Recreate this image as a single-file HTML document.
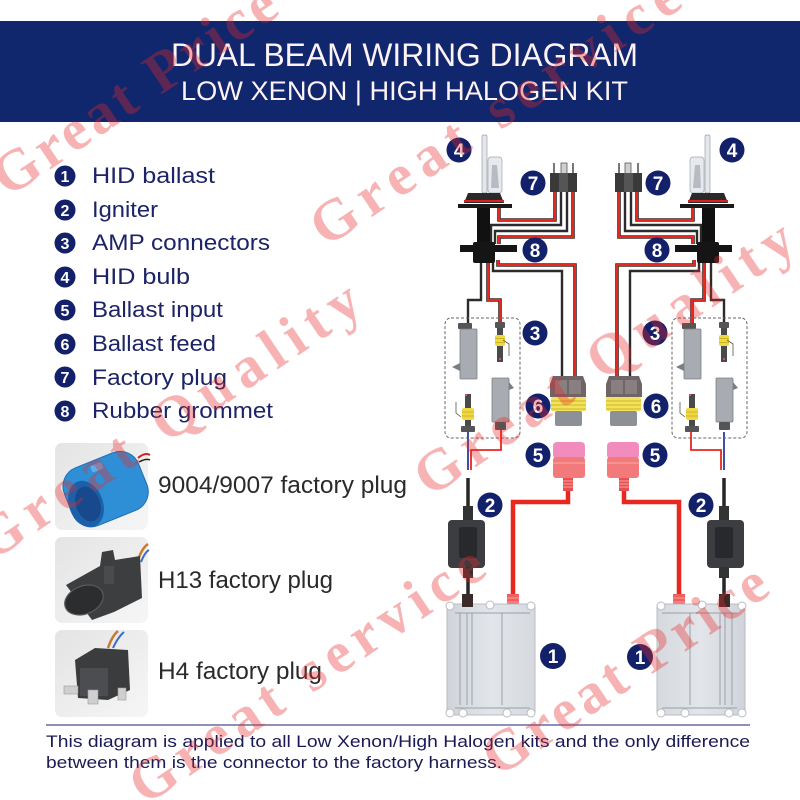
<!DOCTYPE html>
<html><head><meta charset="utf-8"><style>
html,body{margin:0;padding:0;background:#fff;}
svg{display:block;}
</style></head><body>
<svg width="800" height="800" viewBox="0 0 800 800" xmlns="http://www.w3.org/2000/svg" xmlns:xlink="http://www.w3.org/1999/xlink">
<defs>
<linearGradient id="pg" x1="0" y1="0" x2="1" y2="1"><stop offset="0" stop-color="#e4e4e4"/><stop offset="1" stop-color="#f6f6f6"/></linearGradient>
<linearGradient id="bl" x1="0" y1="0" x2="1" y2="0"><stop offset="0" stop-color="#d0d4da"/><stop offset="0.5" stop-color="#e2e5e9"/><stop offset="1" stop-color="#d6d9de"/></linearGradient>
</defs>
<rect width="800" height="800" fill="#fff"/>
<!-- header -->
<rect x="0" y="21" width="800" height="101" fill="#10266d"/>
<text x="171" y="66" font-family="Liberation Sans, sans-serif" font-size="32" fill="#fdf2f4" textLength="467" lengthAdjust="spacingAndGlyphs">DUAL BEAM WIRING DIAGRAM</text>
<text x="181" y="100" font-family="Liberation Sans, sans-serif" font-size="27" fill="#fdf2f4" textLength="447" lengthAdjust="spacingAndGlyphs">LOW XENON | HIGH HALOGEN KIT</text>

<!-- legend -->
<g fill="#13206a">
<circle cx="65" cy="176" r="10.5"/><circle cx="65" cy="210" r="10.5"/><circle cx="65" cy="243" r="10.5"/><circle cx="65" cy="277" r="10.5"/>
<circle cx="65" cy="310" r="10.5"/><circle cx="65" cy="344" r="10.5"/><circle cx="65" cy="377" r="10.5"/><circle cx="65" cy="411" r="10.5"/>
</g>
<g font-family="Liberation Sans, sans-serif" font-weight="bold" font-size="16" fill="#fff" text-anchor="middle">
<text x="65" y="182">1</text><text x="65" y="216">2</text><text x="65" y="249">3</text><text x="65" y="283">4</text>
<text x="65" y="316">5</text><text x="65" y="350">6</text><text x="65" y="383">7</text><text x="65" y="417">8</text>
</g>
<g font-family="Liberation Sans, sans-serif" font-size="22" fill="#1c2366">
<text x="92" y="183" textLength="123" lengthAdjust="spacingAndGlyphs">HID ballast</text>
<text x="92" y="217" textLength="66" lengthAdjust="spacingAndGlyphs">Igniter</text>
<text x="92" y="250" textLength="178" lengthAdjust="spacingAndGlyphs">AMP connectors</text>
<text x="92" y="284" textLength="98" lengthAdjust="spacingAndGlyphs">HID bulb</text>
<text x="92" y="317" textLength="131" lengthAdjust="spacingAndGlyphs">Ballast input</text>
<text x="92" y="351" textLength="124" lengthAdjust="spacingAndGlyphs">Ballast feed</text>
<text x="92" y="385" textLength="135" lengthAdjust="spacingAndGlyphs">Factory plug</text>
<text x="92" y="418" textLength="181" lengthAdjust="spacingAndGlyphs">Rubber grommet</text>
</g>

<!-- plug photos -->
<rect x="55" y="443" width="93" height="87" rx="7" fill="url(#pg)"/>
<path d="M138,458 Q145,452 150,455" stroke="#d02020" stroke-width="2" fill="none"/>
<path d="M139,462 Q146,458 150,460" stroke="#222" stroke-width="1.5" fill="none"/>
<g transform="rotate(-22 106 490)">
<rect x="66" y="458" width="80" height="62" rx="20" fill="#2f8fd6" stroke="#1f6fb0" stroke-width="1"/>
<rect x="100" y="462" width="12" height="7" rx="2" fill="#5ab0ea"/>
</g>
<ellipse cx="86" cy="504" rx="17" ry="24" transform="rotate(-20 86 504)" fill="#1d60aa"/>
<ellipse cx="88" cy="504" rx="12" ry="18" transform="rotate(-20 88 504)" fill="#17498c"/>

<rect x="55" y="537" width="93" height="86" rx="7" fill="url(#pg)"/>
<path d="M138,560 Q142,548 148,544" stroke="#c87a2a" stroke-width="2.5" fill="none"/>
<path d="M141,562 Q145,552 149,550" stroke="#3a6ad0" stroke-width="2" fill="none"/>
<path d="M66,585 L100,566 L102,552 L113,550 L115,560 L140,556 L142,598 L114,612 L92,620 Z" fill="#3d3e40"/>
<ellipse cx="84" cy="600" rx="20" ry="14" transform="rotate(-22 84 600)" fill="#2c2d2f" stroke="#5a5a5c" stroke-width="1.2"/>
<rect x="104" y="566" width="10" height="18" fill="#4a4b4d"/>

<rect x="55" y="630" width="93" height="87" rx="7" fill="url(#pg)"/>
<path d="M108,648 Q112,636 118,631" stroke="#c87a2a" stroke-width="2.5" fill="none"/>
<path d="M113,648 Q118,637 124,632" stroke="#3a6ad0" stroke-width="2" fill="none"/>
<path d="M75,660 L95,648 L128,650 L130,690 L108,700 L78,698 Z" fill="#3b3c3e"/>
<rect x="80" y="668" width="28" height="28" fill="#4c4d50"/>
<rect x="88" y="690" width="10" height="14" fill="#cfcfcf" stroke="#999" stroke-width="0.6"/>
<rect x="64" y="686" width="14" height="8" fill="#cfcfcf" stroke="#999" stroke-width="0.6"/>
<rect x="118" y="688" width="8" height="12" fill="#cfcfcf" stroke="#999" stroke-width="0.6"/>

<g font-family="Liberation Sans, sans-serif" font-size="24" fill="#2a2a2a">
<text x="158" y="493" textLength="249" lengthAdjust="spacingAndGlyphs">9004/9007 factory plug</text>
<text x="158" y="588" textLength="175" lengthAdjust="spacingAndGlyphs">H13 factory plug</text>
<text x="158" y="679" textLength="164" lengthAdjust="spacingAndGlyphs">H4 factory plug</text>
</g>

<!-- diagram half -->
<g id="half">
 <g fill="none" stroke-linejoin="miter">
  <g stroke="#3a2a2a" stroke-width="3.6">
   <path d="M555,192V220H499V208"/>
   <path d="M573,192V237H499V244"/>
   <path d="M488,260V300H500V323"/>
   <path d="M498,260V265H575V377"/>
  </g>
  <g stroke="#e8271f" stroke-width="2">
   <path d="M555,192V220H499V208"/>
   <path d="M573,192V237H499V244"/>
   <path d="M488,260V300H500V323"/>
   <path d="M498,260V265H575V377"/>
  </g>
  <g stroke="#2b2b2b" stroke-width="2.4">
   <path d="M561,192V225H491V244"/>
   <path d="M567,192V231H495V244"/>
   <path d="M481,260V300H468V323"/>
   <path d="M493,260V271H562V377"/>
  </g>
  <path d="M468,432V470" stroke="#2a3a9a" stroke-width="1.8"/>
  <path d="M501,430V450H471V470" stroke="#e8271f" stroke-width="1.8"/>
  <path d="M568,488V502H513V596" stroke="#e8271f" stroke-width="4.5"/>
  <path d="M468,478V596" stroke="#262626" stroke-width="3.5"/>
 </g>
 <!-- bulb -->
 <rect x="482" y="135" width="5" height="58" rx="1.5" fill="#e4e7eb" stroke="#9aa0a8" stroke-width="0.7"/>
 <rect x="488" y="157" width="14" height="36" rx="3" fill="#e6e9ee" stroke="#a0a6ae" stroke-width="0.7"/>
 <path d="M492,165 L497,165 L499,188 L491,188 Z" fill="#b8bcc2"/>
 <path d="M468,193 L500,193 L504,203 L464,203 Z" fill="#2a2a2a"/>
 <rect x="464" y="200" width="40" height="2" fill="#e02020"/>
 <rect x="458" y="204" width="54" height="4" fill="#1a1a1a"/>
 <rect x="477" y="208" width="13" height="36" fill="#111"/>
 <!-- grommet -->
 <rect x="460" y="245" width="57" height="7" fill="#151515"/>
 <rect x="473" y="242" width="22" height="21" rx="2" fill="#151515"/>
 <!-- plug 7 -->
 <rect x="553" y="163" width="2" height="11" fill="#777"/>
 <rect x="561" y="163" width="6" height="11" fill="#cfcfcf" stroke="#555" stroke-width="0.8"/>
 <rect x="572" y="163" width="2" height="11" fill="#777"/>
 <rect x="550" y="173" width="27" height="19" fill="#3a3a3a"/>
 <rect x="559" y="173" width="9" height="19" fill="#555"/>
 <!-- AMP dashed box -->
 <rect x="445" y="318" width="75" height="120" rx="6" fill="none" stroke="#666" stroke-width="1" stroke-dasharray="3,2"/>
 <!-- plug 6 -->
 <path d="M553,376 L583,376 L586,384 L586,397 L550,397 L550,384 Z" fill="#6f6466"/>
 <rect x="555" y="380" width="12" height="14" fill="#8a7f80"/>
 <rect x="569" y="380" width="12" height="14" fill="#8a7f80"/>
 <rect x="551" y="397" width="35" height="14" rx="2" fill="#f3e25a"/>
 <path d="M551,401H586M551,405H586M551,409H586" stroke="#c9b530" stroke-width="1"/>
 <rect x="555" y="411" width="27" height="15" rx="2" fill="#8d9096"/>
 <!-- plug 5 -->
 <rect x="553" y="442" width="32" height="17" rx="4" fill="#f28cbc"/>
 <rect x="553" y="457" width="32" height="21" rx="3" fill="#f27a7a"/>
 <path d="M553,463H585" stroke="#f8a0a0" stroke-width="1.2"/>
 <rect x="563" y="478" width="10" height="13" fill="#e85050"/>
 <path d="M563,481H573M563,484H573M563,487H573" stroke="#f8a0a0" stroke-width="1"/>
 <!-- igniter -->
 <rect x="463" y="506" width="10" height="15" fill="#333"/>
 <rect x="448" y="520" width="37" height="48" rx="4" fill="#3b3d40"/>
 <rect x="459" y="527" width="18" height="31" rx="2" fill="#28292c"/>
 <rect x="463" y="567" width="10" height="11" fill="#333"/>
 <rect x="462" y="594" width="11" height="13" fill="#3a2a2a"/>
 <!-- red connector on ballast -->
 <rect x="507" y="594" width="12" height="14" fill="#f06060"/>
 <path d="M507,598H519M507,602H519" stroke="#f8a0a0" stroke-width="1"/>
 <!-- ballast -->
 <rect x="447" y="604" width="88" height="111" rx="3" fill="url(#bl)" stroke="#b8bcc2" stroke-width="1"/>
 <g fill="#fff" stroke="#b8bcc2" stroke-width="1">
  <circle cx="450" cy="606" r="4"/><circle cx="490" cy="605" r="4"/><circle cx="531" cy="606" r="4"/>
  <circle cx="450" cy="713" r="4"/><circle cx="463" cy="713" r="4"/><circle cx="507" cy="713" r="4"/><circle cx="531" cy="713" r="4"/>
 </g>
 <path d="M455,613H530M455,708H530" stroke="#9aa0a8" stroke-width="1"/>
 <path d="M460,613V705M467,613V705M472,613V705M502,613V705" stroke="#9aa0a8" stroke-width="1"/>
 <rect x="462" y="594" width="11" height="13" fill="#3a2a2a"/>
</g>
<use xlink:href="#half" href="#half" transform="matrix(-1,0,0,1,1192,0)"/>

<!-- AMP contents -->
<g id="amp" transform="translate(445,318)">
 <rect x="13" y="5" width="14" height="6" rx="1" fill="#555"/>
 <rect x="15" y="11" width="17" height="50" rx="1" fill="#a8acb2" stroke="#7a7e84" stroke-width="0.8"/>
 <path d="M7,49 L15,45 L15,53 Z" fill="#7a7e84"/>
 <rect x="50" y="4" width="10" height="6" rx="1" fill="#555"/>
 <rect x="52" y="10" width="6" height="34" fill="#4a4a4a"/>
 <rect x="50" y="17" width="10" height="11" rx="2" fill="#f0d840"/>
 <path d="M50,20.5H60M50,24.5H60" stroke="#c0a820" stroke-width="0.8"/>
 <rect x="54" y="40" width="2" height="2" fill="#e040a0"/>
 <path d="M58,22 L64,26 L64,38" stroke="#555" stroke-width="0.8" fill="none"/>
 <rect x="20" y="76" width="6" height="16" fill="#4a4a4a"/>
 <rect x="20" y="76" width="2" height="2" fill="#e040a0"/>
 <rect x="17" y="90" width="12" height="12" rx="2" fill="#f0d840"/>
 <path d="M17,94H29M17,98H29" stroke="#c0a820" stroke-width="0.8"/>
 <rect x="20" y="102" width="6" height="6" fill="#4a4a4a"/>
 <rect x="16" y="108" width="14" height="6" rx="1" fill="#555"/>
 <path d="M11,84 L11,95 L16,99" stroke="#555" stroke-width="0.8" fill="none"/>
 <rect x="47" y="60" width="17" height="44" rx="1" fill="#a8acb2" stroke="#7a7e84" stroke-width="0.8"/>
 <path d="M64,64 L69,70 L64,72 Z" fill="#7a7e84"/>
 <rect x="50" y="104" width="11" height="8" rx="1" fill="#555"/>
</g>
<use xlink:href="#amp" href="#amp" transform="translate(224,0)"/>

<!-- diagram labels -->
<g fill="#13206a">
<circle cx="459" cy="150" r="12.5"/><circle cx="533" cy="183" r="12.5"/><circle cx="535" cy="250" r="12.5"/><circle cx="535" cy="333" r="12.5"/>
<circle cx="538" cy="406" r="12.5"/><circle cx="538" cy="455" r="12.5"/><circle cx="490" cy="505" r="12.5"/><circle cx="553" cy="656" r="13"/>
<circle cx="732" cy="150" r="12.5"/><circle cx="658" cy="183" r="12.5"/><circle cx="657" cy="250" r="12.5"/><circle cx="655" cy="333" r="12.5"/>
<circle cx="656" cy="406" r="12.5"/><circle cx="655" cy="455" r="12.5"/><circle cx="701" cy="505" r="12.5"/><circle cx="640" cy="657" r="13"/>
</g>
<g font-family="Liberation Sans, sans-serif" font-weight="bold" font-size="19" fill="#fff" text-anchor="middle">
<text x="459" y="157">4</text><text x="533" y="190">7</text><text x="535" y="257">8</text><text x="535" y="340">3</text>
<text x="538" y="413">6</text><text x="538" y="462">5</text><text x="490" y="512">2</text><text x="553" y="663">1</text>
<text x="732" y="157">4</text><text x="658" y="190">7</text><text x="657" y="257">8</text><text x="655" y="340">3</text>
<text x="656" y="413">6</text><text x="655" y="462">5</text><text x="701" y="512">2</text><text x="640" y="664">1</text>
</g>

<!-- footer -->
<path d="M46,725H750" stroke="#6a6aa0" stroke-width="1.5"/>
<g font-family="Liberation Sans, sans-serif" font-size="17" fill="#1a1a55">
<text x="46" y="747" textLength="704" lengthAdjust="spacingAndGlyphs">This diagram is applied to all Low Xenon/High Halogen kits and the only difference</text>
<text x="46" y="768" textLength="456" lengthAdjust="spacingAndGlyphs">between them is the connector to the factory harness.</text>
</g>

<!-- watermarks -->
<g font-family="Liberation Serif, serif" font-weight="bold" font-size="58" fill="#e82a2a" opacity="0.36">
<text transform="translate(8,198) rotate(-34)" textLength="330" lengthAdjust="spacing">Great Price</text>
<text transform="translate(326,248) rotate(-34)" textLength="433" lengthAdjust="spacing">Great service</text>
<text transform="translate(-8,562) rotate(-34)" textLength="450" lengthAdjust="spacing">Great Quality</text>
<text transform="translate(430,498) rotate(-34)" textLength="445" lengthAdjust="spacing">Great Quality</text>
<text transform="translate(145,806) rotate(-34)" textLength="415" lengthAdjust="spacing">Great service</text>
<text transform="translate(498,778) rotate(-34)" textLength="331" lengthAdjust="spacing">Great Price</text>
</g>
</svg>
</body></html>
